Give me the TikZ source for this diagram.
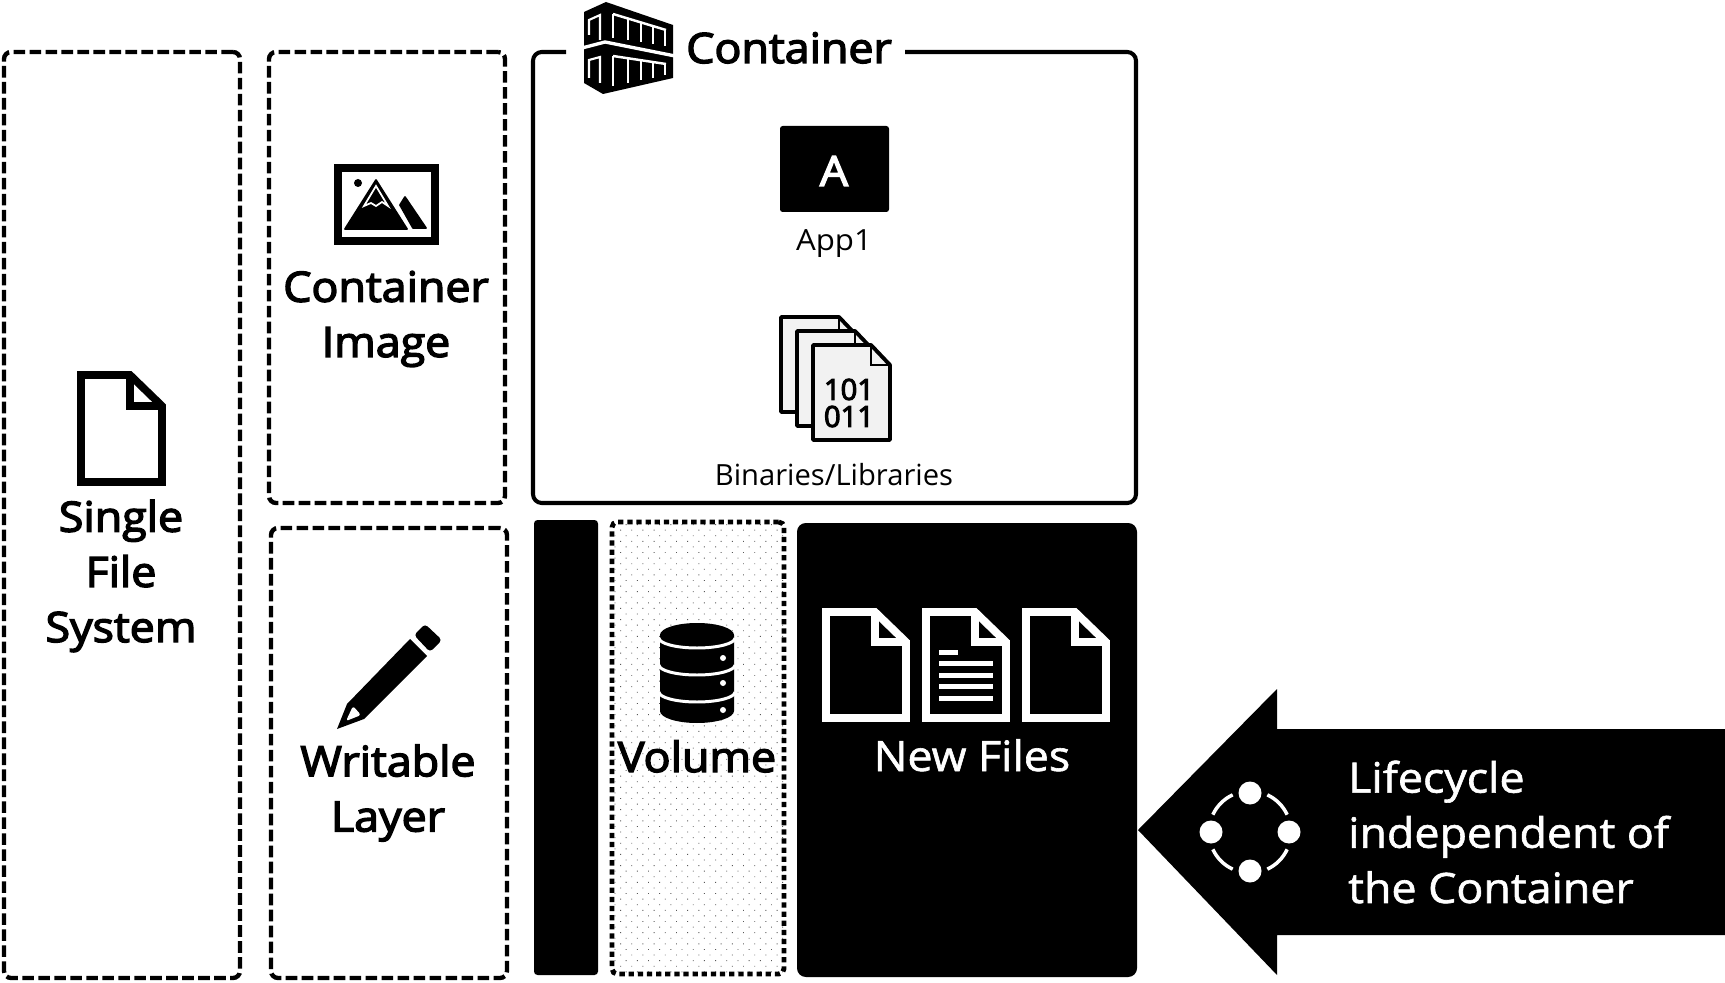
\documentclass[tikz,border=0pt]{standalone}
\usepackage{fontspec}
\setmainfont{Open Sans}
\newfontfamily\widefont[FakeStretch=1.07]{Open Sans}
\newcommand{\thicktext}[1]{\special{pdf:code 2 Tr #1 w}}
\usetikzlibrary{calc,patterns.meta}

\begin{document}
\begin{tikzpicture}[
    x=0.02cm,
    y=-0.02cm,
    dashbox/.style={draw, line width=2.5pt, rounded corners=4pt, dash pattern=on 6.6pt off 2.5pt, anchor=north west, inner sep=0pt, outer sep=0pt},
    dotbox/.style={draw, line width=2.8pt, rounded corners=3pt, dash pattern=on 3pt off 2.2pt, anchor=north west, inner sep=0pt, outer sep=0pt,
        pattern={Dots[distance=4.5pt, angle=45, radius=0.36pt]}, pattern color=black!65},
    blackbox/.style={fill=black, anchor=north west, inner sep=0pt, outer sep=0pt},
    headtext/.style={font=\widefont\fontsize{23.8}{31.4}\selectfont, align=center, execute at begin node={\thicktext{0.8}}},
    plaintext/.style={font=\fontsize{16.6}{20}\selectfont, anchor=base},
    whitetext/.style={font=\widefont\fontsize{23.8}{31.4}\selectfont, text=white, align=left, execute at begin node={\thicktext{0.35}}},
    page/.style={line width=#1, line join=miter, miter limit=4},
    page/.default=4.4pt
]
  \useasboundingbox (0,0) rectangle (1725,983);

  % boxes
  \node[dashbox, minimum width=236*0.02cm, minimum height=926*0.02cm] (single) at (4,52) {};
  \node[dashbox, minimum width=236*0.02cm, minimum height=451*0.02cm] (image) at (269,52) {};
  \node[dashbox, minimum width=236*0.02cm, minimum height=450*0.02cm] (writable) at (271,528) {};
  \node[blackbox, rounded corners=2pt, minimum width=64*0.02cm, minimum height=455*0.02cm] (bar) at (534,520) {};
  \node[dotbox, minimum width=172*0.02cm, minimum height=452*0.02cm] (volume) at (612,522) {};
  \node[blackbox, rounded corners=5pt, minimum width=340*0.02cm, minimum height=454*0.02cm] (newfiles) at (797,523) {};

  % container frame, open behind its title
  \coordinate (frameleft) at (566,52);
  \coordinate (frameright) at (905,52);
  \draw[line width=2.3pt, rounded corners=5pt] (frameleft) -- (533,52) -- (533,503) -- (1136,503) -- (1136,52) -- (frameright);

  % container icon
  \fill (584,12) -- (606,2) -- (673,25) -- (673,78) -- (603,94) -- (584,83) -- cycle;
  \draw[white, line width=1.9pt] (582,48) -- (605,42) -- (675,56);
  \draw[white, line width=1.2pt] (589,35) -- (589,20) -- (600,15) -- (600,40);
  \draw[white, line width=1.2pt] (589,78) -- (589,60) -- (600,57) -- (600,83);
  \draw[white, line width=1.4pt] (613,14) -- (666,30);
  \draw[white, line width=1.4pt] (613,56) -- (666,64);
  \foreach \xa/\ya/\yb in {613/14/38, 628/18/40, 641/22/42, 653/26/44, 665/30/46}
    \draw[white, line width=1.4pt] (\xa,\ya) -- (\xa,\yb);
  \foreach \xa/\ya/\yb in {613/56/86, 628/59/83, 641/61/80, 653/62/78, 665/64/75}
    \draw[white, line width=1.4pt] (\xa,\ya) -- (\xa,\yb);
  \node[headtext, anchor=base] (containerlabel) at (789,63) {Container};

  % app
  \node[blackbox, rounded corners=1.5pt, minimum width=109*0.02cm, minimum height=86*0.02cm] (appbox) at (780,126) {};
  \node[headtext, text=white, anchor=base] (appletter) at (834,186) {A};
  \node[plaintext, font=\widefont\fontsize{16.6}{20}\selectfont] (applabel) at (834,251) {App1};

  % binaries
  \foreach \xa/\ya in {781/317, 797/331, 813/345} {
    \draw[page=2.2pt, fill=black!5, line join=round] (\xa,\ya) -- ++(58,0) -- ++(19,20) -- ++(0,75) -- ++(-77,0) -- cycle;
    \draw[line width=1.6pt] (\xa+58,\ya) -- ++(0,20) -- ++(19,0);
  }
  \node[font=\fontsize{16.6}{16.4}\selectfont, align=center, anchor=center, execute at begin node={\thicktext{0.6}}] (binarydigits) at (849,403) {101\\[-1pt]011};
  \node[plaintext] (binarylabel) at (834,485) {Binaries/Libraries};

  % single file system
  \draw[page] (81,375) -- ++(49,0) -- ++(32,31) -- ++(0,76) -- ++(-81,0) -- cycle;
  \draw[page] (130,375) -- ++(0,31) -- ++(32,0);
  \node[headtext] (singlelabel) at (121,576) {Single\\File\\System};

  % container image
  \draw[line width=4.4pt] (338,168) rectangle (435,241);
  \fill[line join=round, draw, line width=1pt] (376,180) -- (407,229) -- (345,229) -- cycle;
  \draw[white, line width=1pt] (376,186) -- (364,206) -- (371,203) -- (376,206) -- (382,202) -- (388,206) -- cycle;
  \fill[draw, line join=round, line width=1pt] (405,197) -- (426,228) -- (413,228) -- (400,205) -- cycle;
  \fill (358,183) circle (4);
  \node[headtext] (imagelabel) at (386,319) {Container\\Image};

  % writable layer
  \fill (337,729) -- (347,704) -- (410,639) -- (427,656) -- (364,719) -- cycle;
  \fill[rounded corners=2pt] (425,624) -- (442,640) -- (430,652) -- (414,635) -- cycle;
  \fill[white, rounded corners=1.5pt] (353,706) -- (361,715) -- (346,721) -- cycle;
  \node[headtext] (writablelabel) at (388,793) {Writable\\Layer};

  % volume
  \fill (660,635) arc[start angle=180, end angle=360, x radius=37, y radius=12] -- (734,711) arc[start angle=0, end angle=180, x radius=37, y radius=12] -- cycle;
  \foreach \ya in {638,665,692}
    \draw[white, line width=1.7pt] (659,\ya) arc[start angle=180, end angle=0, x radius=38, y radius=10];
  \foreach \ya in {658,683,710}
    \fill[white] (723,\ya) circle (3);
  \node[headtext, anchor=base] (volumelabel) at (697,772) {Volume};

  % new files
  \foreach \xa in {826,926,1026} {
    \draw[white, page] (\xa,612) -- ++(49,0) -- ++(31,30) -- ++(0,76) -- ++(-80,0) -- cycle;
    \draw[white, page] (\xa+49,612) -- ++(0,30) -- ++(31,0);
  }
  \fill[white] (939,650) rectangle (958,655);
  \foreach \ya in {661,673,684,696}
    \fill[white] (939,\ya) rectangle (993,\ya+5);
  \node[whitetext, anchor=base] (newfileslabel) at (972,771) {New Files};

  % lifecycle arrow
  \fill (1138,830) -- (1277,689) -- (1277,729) -- (1725,729) -- (1725,935) -- (1277,935) -- (1277,975) -- cycle;
  \coordinate (cycle) at (1250,832);
  \foreach \a in {25,115,205,295}
    \draw[white, line width=2pt] ($(cycle)+(\a:41)$) arc[start angle=\a, delta angle=40, radius=41];
  \foreach \a in {0,90,180,270}
    \fill[white] ($(cycle)+(\a:39)$) circle (11.5);
  \node[whitetext, anchor=west] (lifecyclelabel) at (1342,832) {Lifecycle\\independent of\\the Container};
\end{tikzpicture}
\end{document}
